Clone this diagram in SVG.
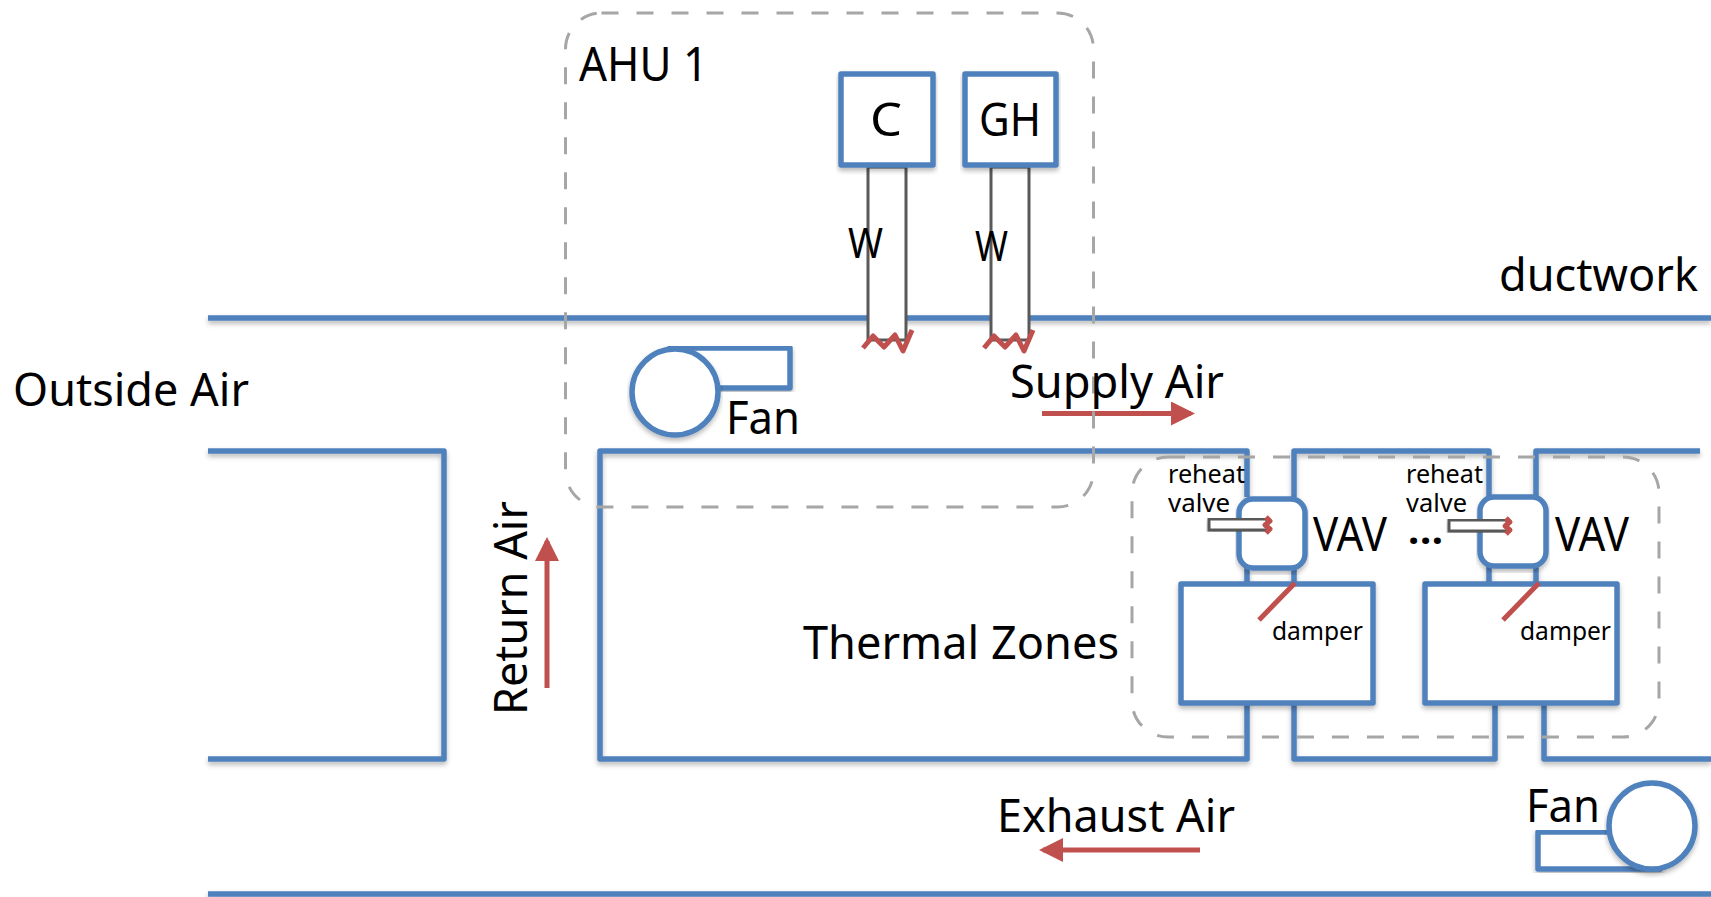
<svg xmlns="http://www.w3.org/2000/svg" width="1711" height="897" viewBox="0 0 1711 897">
<style>
.b{fill:none;stroke:#4f81bd;stroke-width:5.5;stroke-linejoin:round}
.bf{fill:#fff;stroke:#4f81bd;stroke-width:5.5;stroke-linejoin:round}
.d{fill:none;stroke:#a6a6a6;stroke-width:3;stroke-dasharray:17 18}
.p{fill:#fff;stroke:#595959;stroke-width:3}
.r{fill:none;stroke:#c0504d;stroke-width:5;stroke-linejoin:round}
.t{font-family:"Noto Sans","Open Sans","DejaVu Sans",sans-serif;fill:#000}
.l{font-size:46px}.m{font-size:42px}.s{font-size:26px}
.sh{filter:url(#sh)}
</style>
<defs>
<filter id="sh" x="-5%" y="-5%" width="110%" height="115%"><feDropShadow dx="0" dy="3" stdDeviation="2.5" flood-color="#000" flood-opacity="0.28"/></filter>
<marker id="ah" markerUnits="userSpaceOnUse" markerWidth="26" markerHeight="26" refX="20" refY="12" orient="auto"><path d="M0 0L24 12L0 24Z" fill="#c0504d"/></marker>
</defs>
<rect width="1711" height="897" fill="#fff"/>
<g id="connectors">
<g class="sh">
<path class="b" d="M208 318H1711"/>
<path class="b" d="M208 451H444V759H208"/>
<path class="b" d="M1247 497V451H600V759H1247V703"/>
<path class="b" d="M1294 497V451H1489V497"/>
<path class="b" d="M1536 497V451H1700"/>
<path class="b" d="M1294 703V759H1495V703"/>
<path class="b" d="M1544 703V759H1711"/>
<path class="b" d="M208 894H1711"/>
<path class="b" d="M1247 568V584M1294 568V584M1489 566V584M1536 566V584"/>
</g>
<path class="r" d="M1042 413.500H1191" marker-end="url(#ah)"/>
<path class="r" d="M1200 850H1043" marker-end="url(#ah)"/>
<path class="r" d="M547 688V541" marker-end="url(#ah)"/>
</g>
<g id="cooling-coil">
<path d="M868 167V340H906V167Z" fill="#fff" stroke="#595959" stroke-width="3"/>
<rect class="bf sh" x="841" y="74" width="92" height="91"/>
<path class="r" d="M863 348L873 336L884 347L895 335L903 351L912 330"/>
<text class="t l" x="886" y="136" text-anchor="middle" textLength="32" lengthAdjust="spacingAndGlyphs">C</text>
<text class="t m" x="848" y="258" textLength="35" lengthAdjust="spacingAndGlyphs">W</text>
</g>
<g id="glycol-heater">
<path d="M991 167V340H1029V167Z" fill="#fff" stroke="#595959" stroke-width="3"/>
<rect class="bf sh" x="965" y="74" width="91" height="91"/>
<path class="r" d="M984 348L994 336L1005 347L1016 335L1024 351L1033 330"/>
<text class="t l" x="979" y="136" font-size="48" textLength="62" lengthAdjust="spacingAndGlyphs">GH</text>
<text class="t m" x="975" y="261" textLength="33" lengthAdjust="spacingAndGlyphs">W</text>
</g>
<g id="ahu">
<rect class="d" x="565.500" y="13" width="528" height="494" rx="36"/>
<text class="t" x="579" y="81" font-size="48" textLength="129" lengthAdjust="spacingAndGlyphs">AHU 1</text>
</g>
<g id="supply-fan">
<rect class="bf sh" x="670" y="348" width="120" height="40"/>
<circle class="bf sh" cx="675" cy="392" r="43"/>
<text class="t" font-size="46" x="726" y="434" textLength="74" lengthAdjust="spacingAndGlyphs">Fan</text>
</g>
<g id="exhaust-fan">
<rect class="bf sh" x="1538" y="832" width="122" height="37"/>
<circle class="bf sh" cx="1652" cy="826" r="43"/>
<text class="t" font-size="46" x="1526" y="822" textLength="74" lengthAdjust="spacingAndGlyphs">Fan</text>
</g>
<g id="room-1"><rect class="bf sh" x="1181" y="584" width="192" height="119"/></g>
<g id="room-2"><rect class="bf sh" x="1425" y="584" width="192" height="119"/></g>
<g id="vav-1">
<rect class="bf sh" x="1239" y="499" width="66" height="69" rx="14"/>
<rect class="p sh" x="1209" y="519" width="58" height="11"/>
<path class="r" d="M1266 517L1270 521L1265 525L1270 529L1266 533" stroke-width="6"/>
<path class="r" d="M1295 583L1259 620"/>
<text class="t" font-size="47" x="1313" y="551" textLength="74" lengthAdjust="spacingAndGlyphs">VAV</text>
<text class="t s" x="1168" y="483"><tspan x="1168" y="483" textLength="77" lengthAdjust="spacingAndGlyphs">reheat</tspan><tspan x="1168" y="512" textLength="62" lengthAdjust="spacingAndGlyphs">valve</tspan></text>
<text class="t s" x="1272" y="640" textLength="91" lengthAdjust="spacingAndGlyphs">damper</text>
</g>
<g id="vav-2">
<rect class="bf sh" x="1480" y="497" width="66" height="69" rx="14"/>
<rect class="p sh" x="1449" y="520" width="58" height="11"/>
<path class="r" d="M1506 518L1510 522L1505 526L1510 530L1506 534" stroke-width="6"/>
<path class="r" d="M1539 583L1503 620"/>
<text class="t" font-size="47" x="1555" y="551" textLength="74" lengthAdjust="spacingAndGlyphs">VAV</text>
<text class="t s" x="1406" y="483"><tspan x="1406" y="483" textLength="77" lengthAdjust="spacingAndGlyphs">reheat</tspan><tspan x="1406" y="512" textLength="61" lengthAdjust="spacingAndGlyphs">valve</tspan></text>
<text class="t s" x="1520" y="640" textLength="91" lengthAdjust="spacingAndGlyphs">damper</text>
</g>
<g id="thermal-zones">
<rect class="d" x="1132" y="457" width="527" height="280" rx="36"/>
<text class="t l" x="803" y="659" textLength="316" lengthAdjust="spacingAndGlyphs">Thermal Zones</text>
<text class="t" font-size="40" font-weight="700" x="1408" y="544" textLength="35" lengthAdjust="spacing">...</text>
</g>
<g id="labels">
<text class="t l" x="1499" y="291" textLength="199" lengthAdjust="spacingAndGlyphs">ductwork</text>
<text class="t l" x="13" y="406" textLength="236" lengthAdjust="spacingAndGlyphs">Outside Air</text>
<text class="t l" x="1010" y="398" textLength="214" lengthAdjust="spacingAndGlyphs">Supply Air</text>
<text class="t l" x="997" y="832" textLength="238" lengthAdjust="spacingAndGlyphs">Exhaust Air</text>
<text class="t l" transform="translate(527 715) rotate(-90)" textLength="214" lengthAdjust="spacingAndGlyphs">Return Air</text>
</g>
</svg>
